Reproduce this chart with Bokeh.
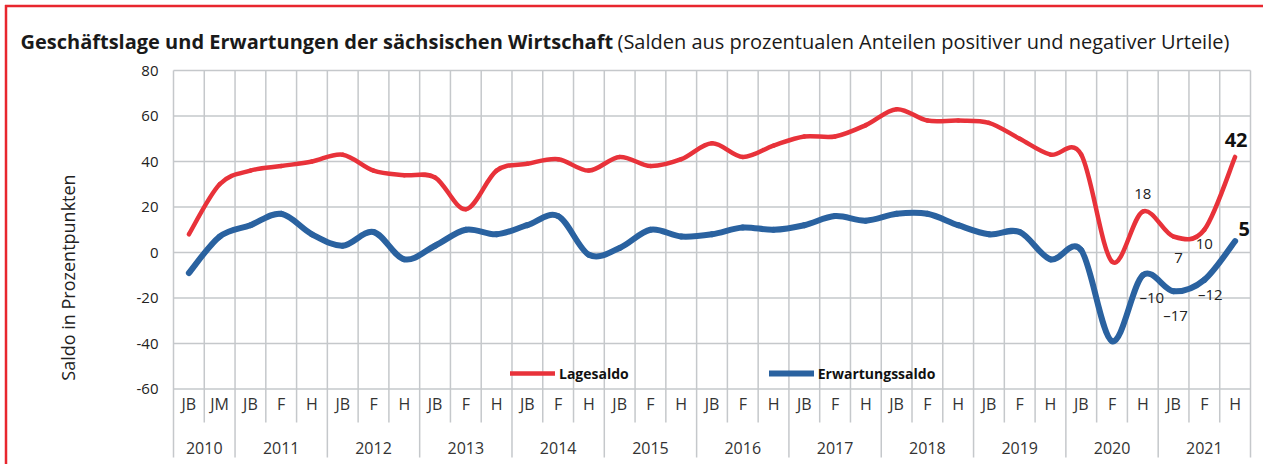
import numpy as np
from bokeh.plotting import figure
from bokeh.models import Range1d, Legend, LegendItem, ColumnDataSource
from bokeh.core.properties import value
from bokeh.embed import file_html
from bokeh.resources import INLINE

# ---------------- data ----------------
years = ["2010", "2011", "2012", "2013", "2014", "2015", "2016", "2017",
         "2018", "2019", "2020", "2021"]
periods = [["JB", "JM"]] + [["JB", "F", "H"]] * 11
lagesaldo = [8, 30, 36, 38, 40, 43, 36, 34, 33, 19, 36, 39, 41, 36, 42, 38, 41,
             48, 42, 47, 51, 51, 56, 63, 58, 58, 57, 50, 43, 43, -4, 18, 7, 10, 42]
erwartungssaldo = [-9, 7, 12, 17, 8, 3, 9, -3, 3, 10, 8, 12, 16, -1, 2, 10, 7,
                   8, 11, 10, 12, 16, 14, 17, 17, 12, 8, 9, -3, 1, -39, -10, -17, -12, 5]
y_ticks = [-60, -40, -20, 0, 20, 40, 60, 80]
y_tick_labels = ["-60", "-40", "-20", "0", "20", "40", "60", "80"]
title_bold = "Geschäftslage und Erwartungen der sächsischen Wirtschaft"
title_rest = "(Salden aus prozentualen Anteilen positiver und negativer Urteile)"
y_title = "Saldo in Prozentpunkten"
series_names = ["Lagesaldo", "Erwartungssaldo"]
red_labels = [(31, "18"), (32, "7"), (33, "10")]
blue_labels = [(31, "–10"), (32, "–17"), (33, "–12")]

RED = "#E8323A"
BLUE = "#2A62A0"
GRID = "#C5C8CB"
TXT = "#222222"
FONT = "Open Sans"

n = sum(len(pp) for pp in periods)
xs = np.arange(n) + 0.5

# ---------------- pixel helpers (reference layout) ----------------
FL, FR = 173.0, 1250.0          # plot area left/right in px
Y0PX, PXU = 252.0, 2.275        # pixel row of y=0, px per unit
CW = (FR - FL) / n


def dx(px):
    return (px - FL) / CW


def dy(py):
    return (Y0PX - py) / PXU


W, H = 1263, 464

p = figure(width=W, height=H, output_backend="svg", toolbar_location=None,
           x_range=Range1d(dx(0), dx(W)), y_range=Range1d(dy(H), dy(0)),
           x_axis_location=None, y_axis_location=None,
           min_border=0, min_border_left=0, min_border_right=0,
           min_border_top=0, min_border_bottom=0)
p.outline_line_color = None
p.xgrid.visible = False
p.ygrid.visible = False
p.background_fill_color = "white"
p.border_fill_color = "white"

# red frame (top and left edges)
p.segment(x0=[dx(4.5), dx(5.5)], y0=[dy(5.5), dy(4.5)], x1=[dx(W), dx(5.5)],
          y1=[dy(5.5), dy(H)], line_color="#E8262E", line_width=2.5)

# horizontal grid lines
p.segment(x0=[0] * len(y_ticks), y0=y_ticks, x1=[n] * len(y_ticks), y1=y_ticks,
          line_color=GRID, line_width=1.5)

# vertical separators
bounds_year = [0]
for pp in periods:
    bounds_year.append(bounds_year[-1] + len(pp))
inner = [k for k in range(1, n) if k not in bounds_year]
p.segment(x0=inner, y0=[80] * len(inner), x1=inner, y1=[dy(422)] * len(inner),
          line_color=GRID, line_width=1.5)
p.segment(x0=bounds_year, y0=[80] * len(bounds_year), x1=bounds_year,
          y1=[dy(457)] * len(bounds_year), line_color=GRID, line_width=1.5)

# y tick labels
p.text(x=[dx(158)] * len(y_ticks), y=y_ticks, text=y_tick_labels,
       text_align="right", text_baseline="middle", text_font=value(FONT),
       text_font_size="15px", text_color=TXT)


# smoothed lines (Excel-like Bezier)
def bez(xv, yv):
    P = np.column_stack([xv, yv]).astype(float)
    Pm = np.vstack([P[0], P, P[-1]])
    cols = {k: [] for k in ("x0", "y0", "x1", "y1", "cx0", "cy0", "cx1", "cy1")}
    for i in range(len(P) - 1):
        a, b = P[i], P[i + 1]
        c0 = a + (b - Pm[i]) / 6.0
        c1 = b - (Pm[i + 3] - a) / 6.0
        for k, v in zip(cols, (a[0], a[1], b[0], b[1], c0[0], c0[1], c1[0], c1[1])):
            cols[k].append(v)
    return cols


rr = p.bezier(source=ColumnDataSource(bez(xs, lagesaldo)), x0="x0", y0="y0",
              x1="x1", y1="y1", cx0="cx0", cy0="cy0", cx1="cx1", cy1="cy1",
              line_color=RED, line_width=4.5, line_cap="round")
rb = p.bezier(source=ColumnDataSource(bez(xs, erwartungssaldo)), x0="x0", y0="y0",
              x1="x1", y1="y1", cx0="cx0", cy0="cy0", cx1="cx1", cy1="cy1",
              line_color=BLUE, line_width=6, line_cap="round")

# legend
leg = Legend(items=[LegendItem(label=series_names[0], renderers=[rr]),
                    LegendItem(label=series_names[1], renderers=[rb])],
             orientation="horizontal", location=(510, 81), spacing=140,
             glyph_width=45, glyph_height=20, label_standoff=4, padding=0,
             margin=0, background_fill_alpha=0, border_line_alpha=0,
             label_text_font=FONT, label_text_font_style="bold",
             label_text_font_size="14px", label_text_color="#111111")
p.add_layout(leg, "center")

# category labels
cat_x, cat_t, yr_x = [], [], []
for k, pp in enumerate(periods):
    for j, lab in enumerate(pp):
        cat_x.append(bounds_year[k] + j + 0.5)
        cat_t.append(lab)
    yr_x.append((bounds_year[k] + bounds_year[k + 1]) / 2)
p.text(x=cat_x, y=[dy(403)] * len(cat_x), text=cat_t, text_align="center",
       text_baseline="middle", text_font=value(FONT), text_font_size="16px",
       text_color="#333333")
p.text(x=yr_x, y=[dy(447)] * len(yr_x), text=years, text_align="center",
       text_baseline="middle", text_font=value(FONT), text_font_size="16px",
       text_color="#333333")

# data labels
red_off = {31: (0, 18), 32: (5, -21), 33: (0, -14)}
blue_off = {31: (9, -22), 32: (2, -24), 33: (6, -14)}
ri = [i for i, _ in red_labels]
p.text(x=[xs[i] for i in ri], y=[lagesaldo[i] for i in ri],
       text=[t for _, t in red_labels],
       x_offset=[red_off[i][0] for i in ri], y_offset=[-red_off[i][1] for i in ri],
       text_align="center", text_baseline="middle", text_font=value(FONT),
       text_font_size="15px", text_color=TXT)
bi = [i for i, _ in blue_labels]
p.text(x=[xs[i] for i in bi], y=[erwartungssaldo[i] for i in bi],
       text=[t for _, t in blue_labels],
       x_offset=[blue_off[i][0] for i in bi], y_offset=[-blue_off[i][1] for i in bi],
       text_align="center", text_baseline="middle", text_font=value(FONT),
       text_font_size="15px", text_color=TXT)
p.text(x=[xs[-1], xs[-1]], y=[lagesaldo[-1], erwartungssaldo[-1]],
       text=[str(lagesaldo[-1]), str(erwartungssaldo[-1])],
       x_offset=[1, 9], y_offset=[-17, -12], text_align="center",
       text_baseline="middle", text_font=value(FONT), text_font_style="bold",
       text_font_size="20px", text_color="#111111")

# title
p.text(x=[dx(20)], y=[dy(41)], text=[title_bold], text_align="left",
       text_baseline="alphabetic", text_font=value(FONT),
       text_font_style="bold", text_font_size="20px", text_color="#1a1a1a")
p.text(x=[dx(617)], y=[dy(41)], text=[title_rest], text_align="left",
       text_baseline="alphabetic", text_font=value(FONT),
       text_font_size="20px", text_color="#1a1a1a")
# y axis title
p.text(x=[dx(67)], y=[dy(277)], text=[y_title], angle=np.pi / 2,
       text_align="center", text_baseline="middle", text_font=value(FONT),
       text_font_size="18px", text_color=TXT)

open("out.html", "w").write(file_html(p, INLINE))
